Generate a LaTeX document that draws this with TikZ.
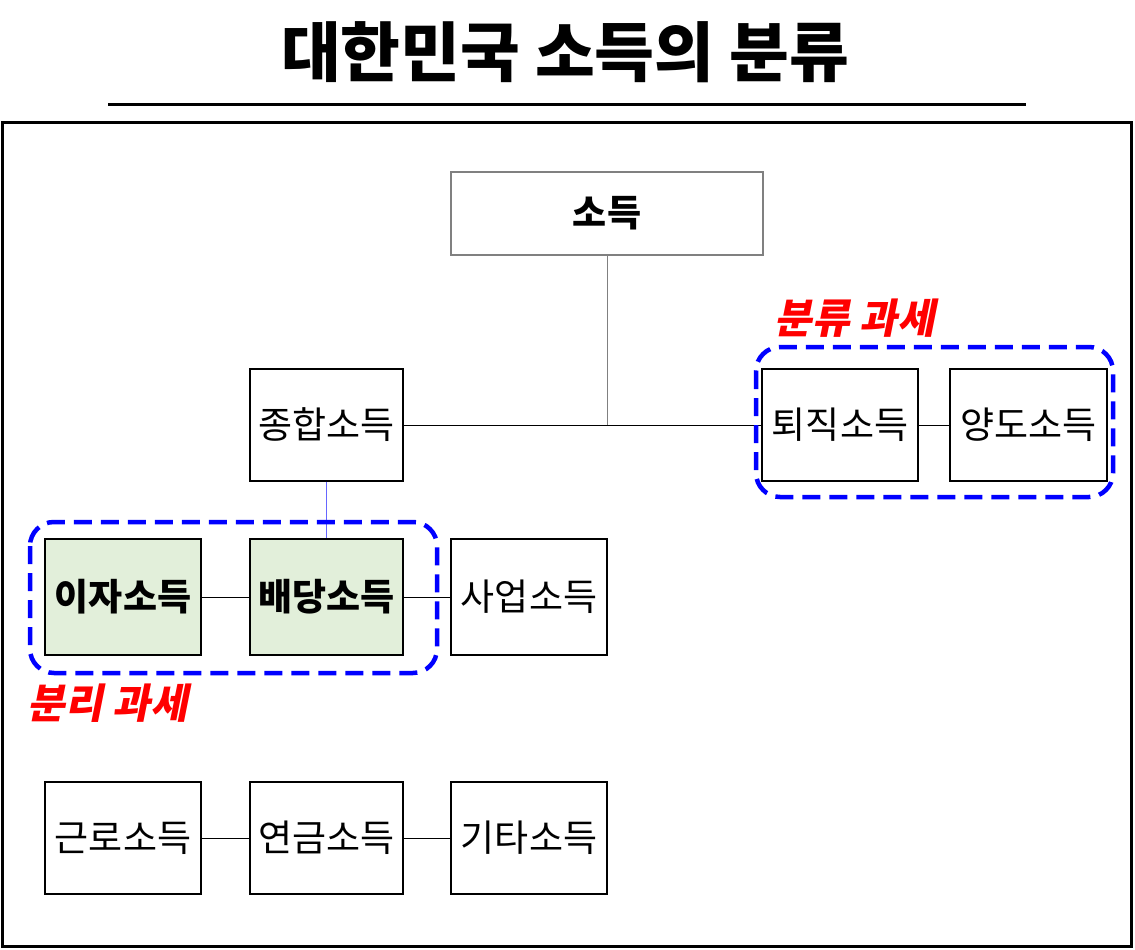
\documentclass[tikz,border=0pt]{standalone}
\usepackage{fontspec}
\setmainfont{Noto Sans CJK KR}
\newfontfamily\slantfont{Noto Sans CJK KR}[FakeSlant=0.2]
\begin{document}
\begin{tikzpicture}[x=1pt,y=-1pt,
  box/.style={draw,line width=1.3pt,minimum width=153pt,minimum height=112pt,inner sep=0pt,font=\fontsize{37}{40}\selectfont},
  hl/.style={box,fill=greenfill,font=\fontsize{37}{40}\selectfont\bfseries},
  grp/.style={draw=blue,line width=4.5pt,dash pattern=on 18pt off 9pt,rounded corners=24pt},
  lab/.style={text=red,font=\fontsize{41}{44}\selectfont\slantfont\bfseries},
  conn/.style={line width=1pt}]
\definecolor{greenfill}{HTML}{E2EFDA}
\useasboundingbox (0,0) rectangle (1135,950);
\node[font=\fontsize{65}{70}\selectfont\bfseries] (title) at (565,52) {대한민국 소득의 분류};
\draw[line width=3pt] (108,104) -- (1026,104);
\draw[line width=3pt] (2,122) rectangle (1131,946);
\node[box,draw=gray,minimum width=312pt,minimum height=83pt,font=\fontsize{37}{40}\selectfont\bfseries] (so) at (607,213.5) {소득};
\node[box] (jh) at (326.5,425) {종합소득};
\node[box,minimum width=156pt] (tj) at (840,425) {퇴직소득};
\node[box,minimum width=157pt] (yd) at (1028.5,425) {양도소득};
\node[hl,minimum width=156pt,minimum height=116pt] (ij) at (123,597) {이자소득};
\node[hl,minimum height=116pt] (bd) at (326.5,597) {배당소득};
\node[box,minimum width=156pt,minimum height=116pt] (sa) at (529,597) {사업소득};
\node[box,minimum width=156pt] (gr) at (123,838) {근로소득};
\node[box] (yg) at (326.5,838) {연금소득};
\node[box,minimum width=156pt] (gt) at (529,838) {기타소득};
\coordinate (mid) at (607,425);
\draw[conn,gray] (so.south) -- (mid);
\draw[conn] (jh.east) -- (tj.west);
\draw[conn] (tj.east) -- (yd.west);
\draw[conn,blue!60] (jh.south) -- (bd.north);
\draw[conn] (ij.east) -- (bd.west);
\draw[conn] (bd.east) -- (sa.west);
\draw[conn] (gr.east) -- (yg.west);
\draw[conn] (yg.east) -- (gt.west);
\draw[grp] (30,522) rectangle (437,673);
\draw[grp] (756,347) rectangle (1113,497);
\node[lab] (l1) at (855,318) {분류 과세};
\node[lab] (l2) at (108,703) {분리 과세};
\end{tikzpicture}
\end{document}
